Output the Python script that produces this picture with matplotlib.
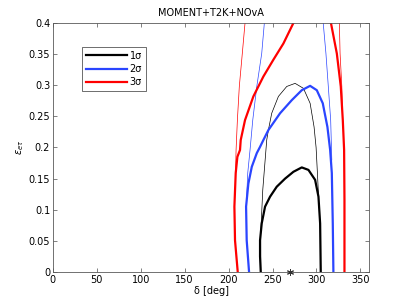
import numpy as np
import matplotlib.pyplot as plt

# contour points (delta in deg, eps_etau)
# 1 sigma, thick
d1_thick = [236.6, 235.8, 235.8, 237.7, 241.5, 247.2, 254.8, 264.3, 273.8, 283.3, 290.9, 298.5, 302.3, 304.2, 304.9]
e1_thick = [0.0, 0.025, 0.051, 0.078, 0.105, 0.121, 0.137, 0.150, 0.161, 0.168, 0.164, 0.148, 0.121, 0.078, 0.0]
# 1 sigma, thin
d1_thin = [236.6, 236.5, 238.9, 243.4, 245.3, 249.1, 256.7, 266.2, 275.7, 285.2, 292.8, 297.3, 299.6, 301.1, 302.3]
e1_thin = [0.0, 0.06, 0.132, 0.212, 0.228, 0.255, 0.282, 0.298, 0.303, 0.295, 0.271, 0.233, 0.200, 0.159, 0.125]

# 2 sigma
d2_thick = [223.3, 220.6, 219.9, 222.5, 226.4, 232.1, 235.8, 239.6, 245.3, 258.6, 271.9, 283.3, 292.8,
            300.4, 307.2, 312.5, 315.6, 317.5, 318.6, 319.3]
e2_thick = [0.0, 0.051, 0.105, 0.142, 0.169, 0.191, 0.201, 0.212, 0.228, 0.255, 0.276, 0.292, 0.299,
            0.292, 0.271, 0.233, 0.196, 0.159, 0.078, 0.0]
d2_thin_l = [240.7, 237.7, 232.1, 227.5, 224.4, 221.8, 220.2]
e2_thin_l = [0.4, 0.351, 0.298, 0.244, 0.196, 0.159, 0.11]
d2_thin_r = [307.7, 310.8, 313.5, 316.2, 317.5]
e2_thin_r = [0.4, 0.351, 0.298, 0.244, 0.18]

# 3 sigma
d3_thick_l = [210.4, 207.3, 206.6, 208.1, 210.0, 213.0, 213.8, 218.7, 228.2, 239.6, 251.0, 262.4, 273.8]
e3_thick_l = [0.0, 0.051, 0.105, 0.159, 0.185, 0.196, 0.212, 0.244, 0.282, 0.314, 0.341, 0.367, 0.4]
d3_thick_r = [316.5, 323.2, 327.7, 330.0, 331.5, 331.9, 331.9]
e3_thick_r = [0.4, 0.351, 0.298, 0.244, 0.196, 0.116, 0.0]
d3_thin_l = [218.7, 215.6, 212.2, 210.0, 208.5, 208.0]
e3_thin_l = [0.4, 0.351, 0.298, 0.244, 0.196, 0.165]
d3_thin_r = [326.1, 326.9, 328.9, 329.5]
e3_thin_r = [0.4, 0.351, 0.298, 0.265]

true_d = [270]
true_e = [0.0]

blk = 'k'
blu = '#2a45ff'
red = '#ff0000'

plt.rcParams['font.family'] = 'DejaVu Sans'
fig = plt.figure(figsize=(4.07, 3.06), dpi=100)
ax = fig.add_axes([0.130, 0.111, 0.777, 0.814])

ax.plot(d1_thin, e1_thin, color=blk, lw=0.5)
ax.plot(d2_thin_l, e2_thin_l, color=blu, lw=0.5)
ax.plot(d2_thin_r, e2_thin_r, color=blu, lw=0.5)
ax.plot(d3_thin_l, e3_thin_l, color=red, lw=0.5)
ax.plot(d3_thin_r, e3_thin_r, color=red, lw=0.5)

ax.plot(d1_thick, e1_thick, color=blk, lw=1.6, label='1σ')
ax.plot(d2_thick, e2_thick, color=blu, lw=1.6, label='2σ')
ax.plot(d3_thick_l, e3_thick_l, color=red, lw=1.6, label='3σ')
ax.plot(d3_thick_r, e3_thick_r, color=red, lw=1.6)

ax.plot(true_d, true_e, marker=(6, 2, 0), color='0.2', ms=5, mew=0.7, ls='none', clip_on=False, zorder=5)

ax.set_xlim(0, 360)
ax.set_ylim(0, 0.4)
ax.set_xticks(np.arange(0, 351, 50))
ax.set_yticks(np.arange(0, 0.401, 0.05))
ax.set_yticklabels(['0', '0.05', '0.1', '0.15', '0.2', '0.25', '0.3', '0.35', '0.4'])
ax.tick_params(direction='in', top=True, right=True, labelsize=7, length=3, width=0.5, pad=2, color='0.3')
for s in ax.spines.values():
    s.set_linewidth(0.6)
    s.set_color('0.35')

ax.set_title('MOMENT+T2K+NOvA', fontsize=7, pad=5)
ax.set_xlabel('δ [deg]', fontsize=7, labelpad=1)
ax.set_ylabel(r'$\epsilon_{e\tau}$', fontsize=7, labelpad=2)

leg = ax.legend(loc='upper left', bbox_to_anchor=(0.092, 0.905), fontsize=7,
                frameon=True, fancybox=False, handlelength=4.2, handletextpad=0.3,
                borderpad=0.4, labelspacing=0.35, borderaxespad=0)
leg.get_frame().set_edgecolor('k')
leg.get_frame().set_linewidth(0.5)

fig.savefig('out.png', dpi=100)
